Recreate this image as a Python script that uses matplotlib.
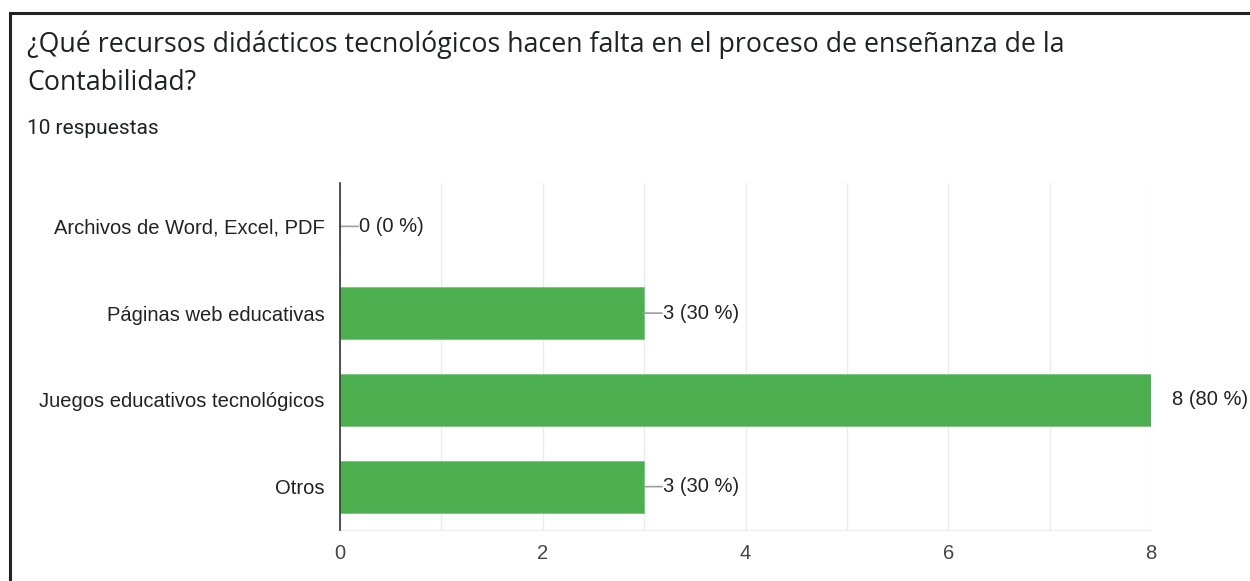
import matplotlib
matplotlib.use("Agg")
import matplotlib.pyplot as plt
from matplotlib.lines import Line2D
from matplotlib.ticker import MultipleLocator

categories = ["Archivos de Word, Excel, PDF", "Páginas web educativas",
              "Juegos educativos tecnológicos", "Otros"]
values = [0, 3, 8, 3]
percents = [0, 30, 80, 30]
title = "¿Qué recursos didácticos tecnológicos hacen falta en el proceso de enseñanza de la\nContabilidad?"
subtitle = "10 respuestas"
xticks = [0, 2, 4, 6, 8]

W, H = 1250, 581
fig = plt.figure(figsize=(W / 100, H / 100), dpi=100)
fig.patch.set_facecolor("white")

# frame border
fig.add_artist(Line2D([10 / W, 10 / W], [0, 1 - 13 / H], transform=fig.transFigure,
                      color="#222222", lw=2.2))
fig.add_artist(Line2D([10 / W, 1], [1 - 13 / H, 1 - 13 / H], transform=fig.transFigure,
                      color="#222222", lw=2.2))

fig.text(27 / W, 1 - 45 / H, title.split("\n")[0], fontsize=19.3, family="Open Sans",
         color="#202124", va="center", ha="left")
fig.text(27 / W, 1 - 83 / H, title.split("\n")[1], fontsize=19.3, family="Open Sans",
         color="#202124", va="center", ha="left")
fig.text(27 / W, 1 - 128 / H, subtitle, fontsize=15, family="Roboto",
         color="#202124", va="center", ha="left")

left, right, top, bottom = 340, 1151, 183, 530
ax = fig.add_axes([left / W, 1 - bottom / H, (right - left) / W, (bottom - top) / H])

y = list(range(len(categories)))
ax.barh(y, values, height=0.6, color="#4caf50", edgecolor="#7cc47f", linewidth=0.6, zorder=3)
ax.set_xlim(0, 8)
ax.set_ylim(len(categories) - 0.5, -0.5)
ax.set_yticks(y)
ax.set_yticklabels(categories, family="Liberation Sans", fontsize=14.5, color="#222222")
ax.set_xticks(xticks)
ax.set_xticklabels([str(t) for t in xticks], family="Liberation Sans", fontsize=14.5,
                   color="#444444")
ax.xaxis.set_minor_locator(MultipleLocator(1))
ax.grid(True, axis="x", which="both", color="#ebebeb", lw=1, zorder=0)
ax.tick_params(axis="both", which="both", length=0)
ax.tick_params(axis="y", pad=11)
ax.tick_params(axis="x", pad=10)
for s in ["top", "right"]:
    ax.spines[s].set_visible(False)
ax.spines["bottom"].set_color("#ebebeb")
ax.spines["left"].set_color("#333333")
ax.spines["left"].set_linewidth(1.2)
ax.spines["left"].set_zorder(4)

vmax = max(values)
for yi, v, p in zip(y, values, percents):
    lab = f"{v} ({p} %)"
    if v < vmax:
        ax.annotate("", xy=(v, yi), xytext=(18, 0), textcoords="offset pixels",
                    arrowprops=dict(arrowstyle="-", color="#9e9e9e", lw=1.2,
                                    shrinkA=0, shrinkB=0), annotation_clip=False)
        ax.annotate(lab, xy=(v, yi), xytext=(19, 0), textcoords="offset pixels",
                    va="center", ha="left", family="Liberation Sans", fontsize=14.5,
                    color="#222222", annotation_clip=False)
    else:
        ax.annotate(lab, xy=(v, yi), xytext=(21, 0), textcoords="offset pixels",
                    va="center", ha="left", family="Liberation Sans", fontsize=14.5,
                    color="#222222", annotation_clip=False)

fig.savefig("out.png", dpi=100)
